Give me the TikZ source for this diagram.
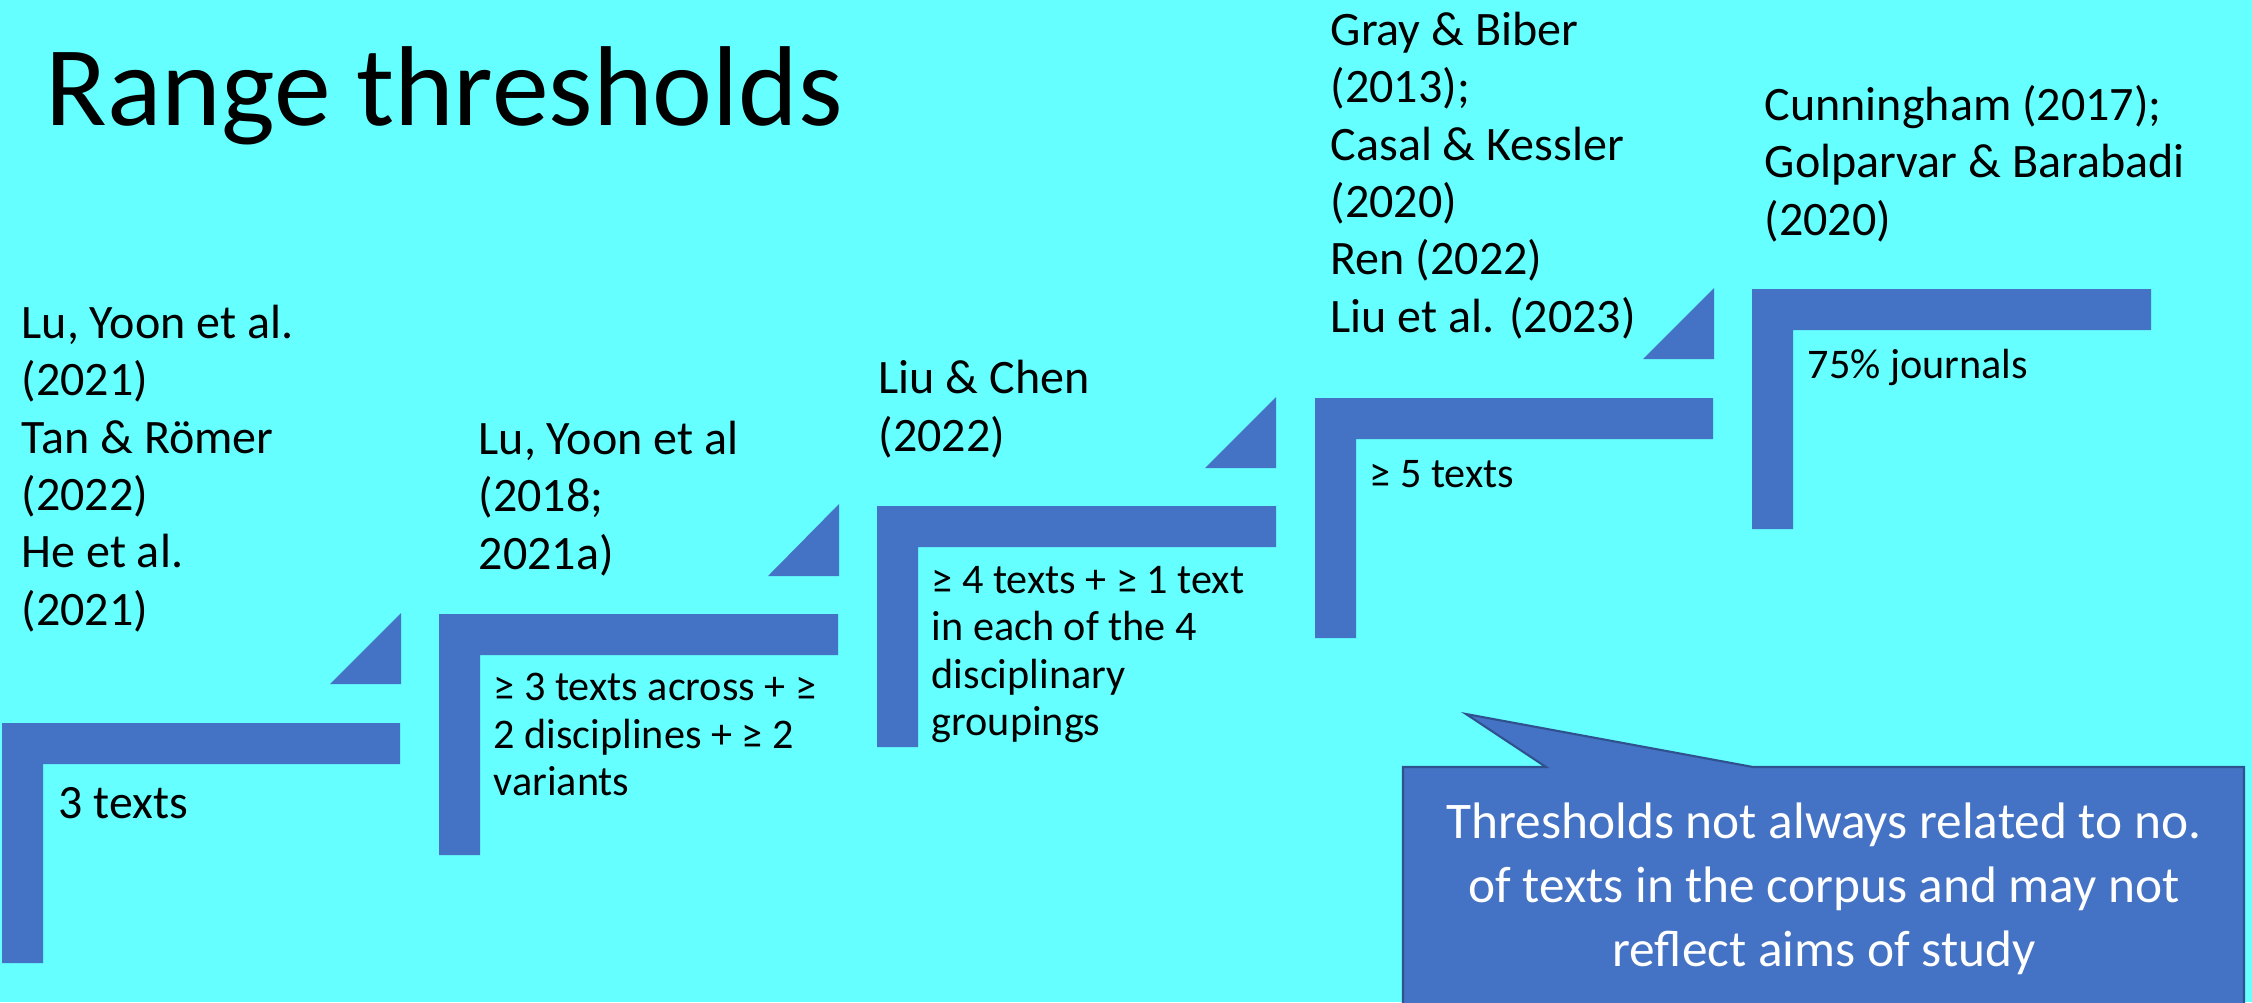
\documentclass[tikz,border=0pt]{standalone}
\usepackage{fontspec}
\setmainfont{Carlito}
\definecolor{bg}{HTML}{66FFFF}
\definecolor{bar}{HTML}{4472C4}
\definecolor{edge}{HTML}{2F528F}
\newcommand\stairstep[4]{\fill[bar] (#1,#3) -- (#2,#3) -- (#2,#3+41) -- (#1+41,#3+41) -- (#1+41,#4) -- (#1,#4) -- cycle;}
\newcommand\wedgetri[3]{\fill[bar] (#1,#2) -- (#1,#3) -- (#1-71,#3) -- cycle;}
\tikzset{
  txt/.style={anchor=base west, inner sep=0pt, align=left},
  ref/.style={txt, font=\fontsize{13.66}{16.3}\selectfont},
  crit/.style={txt, font=\fontsize{12}{13.37}\selectfont},
  callout/.style={fill=bar, draw=edge, line width=0.6pt, line join=miter},
}
\begin{document}
\begin{tikzpicture}[x=0.01cm,y=-0.01cm]
\fill[bg] (0,0) rectangle (2252,1002);
\useasboundingbox (0,0) rectangle (2252,1002);
% stairs
\stairstep{2}{400}{723}{963}
\stairstep{439}{838}{614}{855}
\stairstep{877}{1276}{506}{747}
\stairstep{1315}{1713}{398}{638}
\stairstep{1752}{2151}{289}{529}
% wedges
\wedgetri{401}{613}{684}
\wedgetri{839}{504}{576}
\wedgetri{1276}{397}{468}
\wedgetri{1714}{288}{359}
% title
\node[txt, font=\fontsize{32.3}{38}\selectfont] (title) at (45,125) {Range thresholds};
% references (anchor = baseline of the last line)
\node[ref] (r1) at (21,625) {Lu, Yoon et al.\\(2021)\\Tan \& Römer\\(2022)\\He et al.\\(2021)};
\node[ref] (r2) at (478,569) {Lu, Yoon et al\\(2018;\\2021a)};
\node[ref] (r3) at (878,451) {Liu \& Chen\\(2022)};
\node[ref] (r4) at (1330,332) {Gray \& Biber\\(2013);\\Casal \& Kessler\\(2020)\\Ren (2022)\\Liu et al. (2023)};
\node[ref] (r5) at (1764,235) {Cunningham (2017);\\Golparvar \& Barabadi\\(2020)};
% criteria
\node[txt, font=\fontsize{13.6}{16.3}\selectfont] (c1) at (58,818) {3 texts};
\node[crit] (c2) at (493,795) {≥ 3 texts across + ≥\\2 disciplines + ≥ 2\\variants};
\node[crit] (c3) at (931,735) {≥ 4 texts + ≥ 1 text\\in each of the 4\\disciplinary\\groupings};
\node[crit] (c4) at (1369,487) {≥ 5 texts};
\node[crit] (c5) at (1807,378) {75\% journals};
% callout
\draw[callout] (1403,767) -- (1546,767) -- (1466,714) -- (1753,767) -- (2244,767) -- (2244,1012) -- (1403,1012) -- cycle;
\node[anchor=base, inner sep=0pt, align=center, text=white, font=\fontsize{14.6}{18.2}\selectfont] (note) at (1824,966) {Thresholds not always related to no.\\of texts in the corpus and may not\\reflect aims of study};
\end{tikzpicture}
\end{document}
